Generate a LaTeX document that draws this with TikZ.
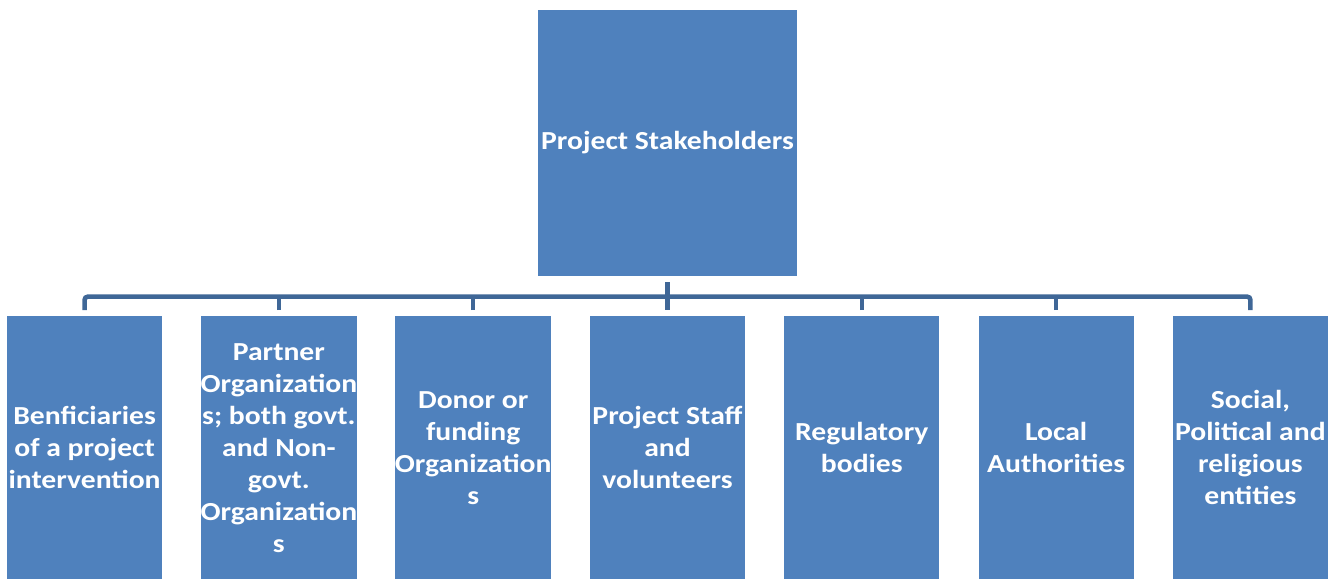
\documentclass[tikz,border=0pt]{standalone}
\usepackage{fontspec}
\setmainfont{Carlito}[FakeStretch=1.14]
\usepackage{xcolor}
\usepackage{tikz}
\usetikzlibrary{positioning}

\definecolor{boxblue}{RGB}{79,129,189}
\definecolor{linkblue}{RGB}{63,103,151}

\begin{document}
\begin{tikzpicture}[
    every node/.style={font=\bfseries\fontsize{26}{32}\selectfont, text=white},
    root/.style={fill=boxblue, minimum width=259pt, minimum height=266pt, inner sep=0pt, align=center},
    leaf/.style={fill=boxblue, minimum width=155pt, minimum height=263pt, inner sep=0pt, align=center},
    link/.style={draw=linkblue, line width=4.5pt}
]
\useasboundingbox (0,0) rectangle (1330pt,-579pt);

% top box
\node[root] (top) at (667.5pt,-143pt) {Project Stakeholders};

% stakeholder boxes
\foreach \i/\txt in {
    0/{Benficiaries\\of a project\\intervention},
    1/{Partner\\Organization\\s; both govt.\\and Non-\\govt.\\Organization\\s},
    2/{Donor or\\funding\\Organization\\s},
    3/{Project Staff\\and\\volunteers},
    4/{Regulatory\\bodies},
    5/{Local\\Authorities},
    6/{Social,\\Political and\\religious\\entities}} {
    \node[leaf, below=40pt of top, xshift=(\i-3)*194.3pt] (s\i) {\txt};
}

% connectors
\draw[link, rounded corners=3pt] ([yshift=6pt]s0.north) |- ([yshift=19.5pt]s6.north) -- ([yshift=6pt]s6.north);
\foreach \i in {1,2,4,5} {
    \draw[link] ([yshift=6pt]s\i.north) -- ++(0,13.5pt);
}
\draw[link] ([yshift=-6pt]top.south) -- ([yshift=6pt]s3.north);

\end{tikzpicture}
\end{document}
